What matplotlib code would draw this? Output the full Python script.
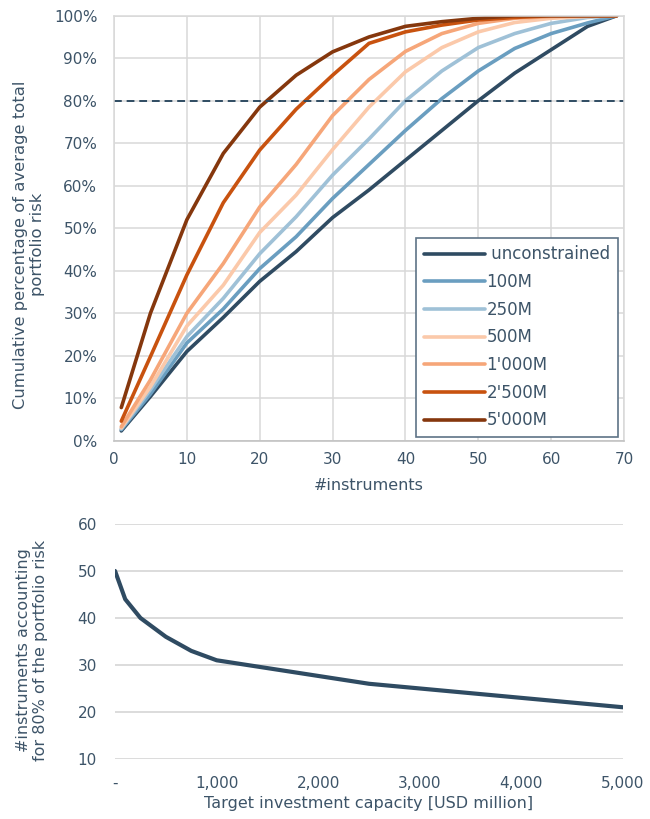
import numpy as np
import matplotlib.pyplot as plt

plt.rcParams['font.family'] = ['DejaVu Sans']

# top chart: cumulative share of portfolio risk vs number of instruments
n_instr = [1, 5, 10, 15, 20, 25, 30, 35, 40, 45, 50, 55, 60, 65, 69]
unconstrained = [2.3, 10.4, 21, 29, 37.5, 44.5, 52.5, 59, 66, 73, 80, 86.5, 92, 97.5, 100]
cap_100 = [2.6, 11, 23, 31, 40.5, 48, 57, 65, 73, 80.5, 87, 92.3, 95.8, 98.3, 100]
cap_250 = [2.8, 12, 24.5, 33.5, 44, 52.7, 62.5, 71, 80, 87, 92.5, 95.8, 98.2, 99.6, 100]
cap_500 = [3, 12.7, 27, 36.6, 49, 57.8, 68.5, 78.5, 86.8, 92.5, 96.2, 98.4, 99.4, 99.8, 100]
cap_1000 = [3.3, 14.3, 30, 41.7, 55, 65, 76.5, 85, 91.6, 95.8, 98.2, 99.4, 99.8, 100, 100]
cap_2500 = [4.6, 19.8, 39, 56, 68.4, 78, 86, 93.5, 96.2, 97.8, 99, 99.6, 100, 100, 100]
cap_5000 = [7.8, 30, 52, 67.6, 78.5, 86, 91.5, 95, 97.5, 98.6, 99.4, 100, 100, 100, 100]

series_names = [' unconstrained', '100M', '250M', '500M', "1'000M", "2'500M", "5'000M"]
series_vals = [unconstrained, cap_100, cap_250, cap_500, cap_1000, cap_2500, cap_5000]
colors = ['#2f4b62', '#6a9ec0', '#9fc1d7', '#fbc9aa', '#f6a679', '#c8520f', '#85370d']

# bottom chart: instruments needed for 80% of risk vs capacity
capacity = [0, 100, 250, 500, 750, 1000, 2500, 5000]
n_80 = [50, 44, 40, 36, 33, 31, 26, 21]

txt = '#3d5468'
grid = '#d9d9d9'

fig = plt.figure(figsize=(6.5, 8.19), dpi=100)

ax = fig.add_axes([0.1754, 0.4619, 0.7846, 0.5189])
for name, vals, c in zip(series_names, series_vals, colors):
    ax.plot(n_instr, vals, color=c, linewidth=2.6, label=name, solid_capstyle='round')
ax.axhline(80, color='#2f4b62', linestyle=(0, (4, 2.5)), linewidth=1.4)

ax.set_xlim(0, 70)
ax.set_ylim(0, 100)
ax.set_xticks(range(0, 71, 10))
ax.set_yticks(range(0, 101, 10))
ax.set_yticklabels([f'{v}%' for v in range(0, 101, 10)])
ax.grid(True, color=grid, linewidth=1.1)
ax.set_axisbelow(True)
for s in ax.spines.values():
    s.set_color(grid)
    s.set_linewidth(1.1)
ax.spines['bottom'].set_color('#bfbfbf')
ax.tick_params(length=0, labelsize=11, colors=txt)
ax.tick_params(axis='y', pad=12)
ax.tick_params(axis='x', pad=8)
ax.set_xlabel('#instruments', fontsize=11.5, color=txt, labelpad=8)
ax.set_ylabel('Cumulative percentage of average total\nportfolio risk', fontsize=11.8, color=txt)
ax.yaxis.set_label_coords(-0.135, 0.461)

leg = ax.legend(loc='lower right', bbox_to_anchor=(0.988, 0.009), borderaxespad=0,
                fontsize=12, handlelength=3.7, handletextpad=0.05, labelspacing=0.58,
                fancybox=False, framealpha=1, borderpad=0.45)
leg.get_frame().set_edgecolor('#5d7386')
leg.get_frame().set_linewidth(1.2)
for t in leg.get_texts():
    t.set_color(txt)

ax2 = fig.add_axes([0.177, 0.0733, 0.7815, 0.2869])
ax2.plot(capacity, n_80, color='#2f4b62', linewidth=3, solid_capstyle='round')
ax2.set_xlim(0, 5000)
ax2.set_ylim(10, 60)
ax2.set_yticks(range(10, 61, 10))
ax2.set_xticks(range(0, 5001, 1000))
ax2.set_xticklabels(['-'] + [f'{v:,}' for v in range(1000, 5001, 1000)])
ax2.yaxis.grid(True, color=grid, linewidth=1.3)
ax2.set_axisbelow(True)
for s in ax2.spines.values():
    s.set_visible(False)
ax2.tick_params(length=0, labelsize=11, colors=txt)
ax2.tick_params(axis='y', pad=13)
ax2.tick_params(axis='x', pad=12)
ax2.set_xlabel('Target investment capacity [USD million]', fontsize=11.5, color=txt, labelpad=4)
ax2.set_ylabel('#instruments accounting\nfor 80% of the portfolio risk', fontsize=11.5, color=txt)
ax2.yaxis.set_label_coords(-0.132, 0.464)

fig.savefig('out.png', dpi=100)
